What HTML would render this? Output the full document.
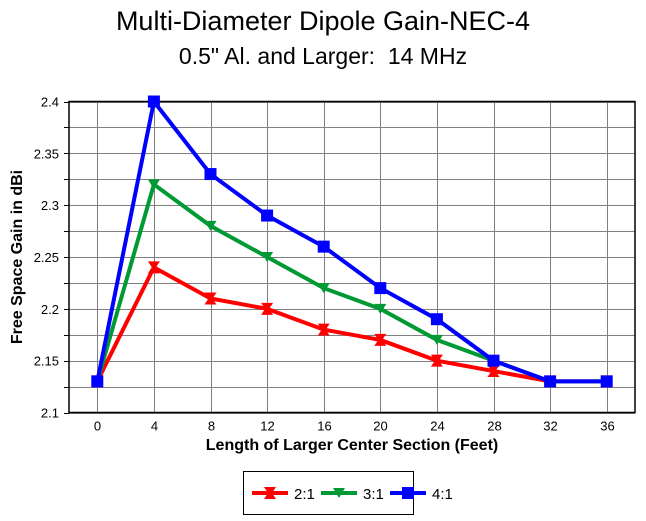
<!DOCTYPE html>
<html><head><meta charset="utf-8"><style>
body{margin:0;background:#fff;}
svg{display:block;font-family:"Liberation Sans",Arial,sans-serif;}
</style></head><body>
<svg id="chart" width="646" height="521" viewBox="0 0 646 521">
<text x="323" y="30" text-anchor="middle" font-size="27">Multi-Diameter Dipole Gain-NEC-4</text>
<text x="323" y="64" text-anchor="middle" font-size="23">0.5" Al. and Larger: &#160;14 MHz</text>
<g id="grid"></g>
<g id="axes"></g>
<g id="series"></g>
<text x="0" y="0" transform="translate(22,257) rotate(-90)" text-anchor="middle" font-size="16" font-weight="bold">Free Space Gain in dBi</text>
<text x="352" y="450" text-anchor="middle" font-size="16" font-weight="bold">Length of Larger Center Section (Feet)</text>
<g>
<rect x="243.5" y="471.5" width="170" height="43" fill="#fff" stroke="#000"/>
<g id="legend-items"></g>
</g>
</svg>
<script>
const categories=[0,4,8,12,16,20,24,28,32,36];
const series21=[2.13,2.24,2.21,2.20,2.18,2.17,2.15,2.14,2.13,2.13];
const series31=[2.13,2.32,2.28,2.25,2.22,2.20,2.17,2.15,2.13,2.13];
const series41=[2.13,2.40,2.33,2.29,2.26,2.22,2.19,2.15,2.13,2.13];
const yTicks=[2.1,2.15,2.2,2.25,2.3,2.35,2.4];
const seriesNames=["2:1","3:1","4:1"];

const NS="http://www.w3.org/2000/svg";
const L=69,R=635,T=101.5,B=412.5,yMin=2.1,yMax=2.4;
const step=(R-L)/categories.length;
function xPos(i){return L+step*(i+0.5);}
function yPos(v){return B-(v-yMin)/(yMax-yMin)*(B-T);}
function mk(tag,attrs,parent){const e=document.createElementNS(NS,tag);for(const k in attrs)e.setAttribute(k,attrs[k]);parent.appendChild(e);return e;}
const grid=document.getElementById('grid'),axes=document.getElementById('axes'),ser=document.getElementById('series');
for(let v=yMin;v<=yMax+1e-9;v+=0.025){
  const y=Math.round(yPos(v))+0.5;
  const g=mk('line',{x1:L,x2:R,y1:y,y2:y,stroke:'#808080','stroke-width':1},grid);
  
  
  const t=mk('line',{x1:L-5,x2:L,y1:y,y2:y,stroke:'#000'},axes);
  
  
}
yTicks.forEach(v=>{
  const t=mk('text',{x:L-10,y:yPos(v)+5,'text-anchor':'end','font-size':13},axes);
  t.textContent=String(v);
  
  
});
categories.forEach((c,i)=>{
  const x=Math.round(xPos(i))+0.5;
  const g=mk('line',{x1:x,x2:x,y1:T,y2:B,stroke:'#808080'},grid);
  
  
  const t=mk('text',{x:x,y:B+18,'text-anchor':'middle','font-size':13},axes);
  t.textContent=String(c);
  
  
});
const frame=mk('rect',{x:L,y:T,width:R-L,height:B-T,fill:'none',stroke:'#000','stroke-width':1.5},axes);



function marker(type,x,y,color,parent){
  let e;
  if(type==='bowtie') e=mk('polygon',{points:`${x-6},${y-6} ${x+6},${y-6} ${x+2},${y} ${x+6},${y+6} ${x-6},${y+6} ${x-2},${y}`,fill:color},parent);
  else if(type==='tri') e=mk('polygon',{points:`${x-6},${y-5} ${x+6},${y-5} ${x},${y+5}`,fill:color},parent);
  else e=mk('rect',{x:x-6,y:y-6,width:12,height:12,fill:color},parent);
  return e;
}
const defs=[[series21,'#ff0000','bowtie','series-2to1'],[series31,'#009933','tri','series-3to1'],[series41,'#0000ff','sq','series-4to1']];
defs.forEach(([vals,color,mt,name])=>{
  const g=mk('g',{},ser);
  
  
  const pts=vals.map((v,i)=>xPos(i)+','+yPos(v)).join(' ');
  const pl=mk('polyline',{points:pts,fill:'none',stroke:color,'stroke-width':4},g);
  
  
  vals.forEach((v,i)=>{
    const m=marker(mt,xPos(i),yPos(v),color,g);
    
    
  });
});
const li=document.getElementById('legend-items');
defs.forEach(([vals,color,mt,name],k)=>{
  const x0=252+k*69,y=493;
  const g=mk('g',{},li);
  
  
  mk('line',{x1:x0,x2:x0+36,y1:y,y2:y,stroke:color,'stroke-width':4},g);
  marker(mt,x0+18,y,color,g);
  const t=mk('text',{x:x0+42,y:y+6,'font-size':15},g);
  t.textContent=seriesNames[k];
});
</script>
</body></html>
